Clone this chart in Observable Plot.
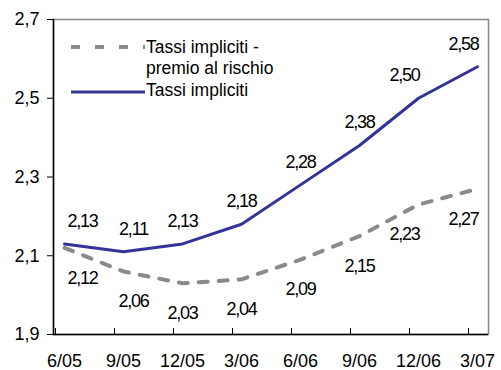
<!DOCTYPE html>
<html>
<head>
<meta charset="utf-8">
<script src="https://cdn.jsdelivr.net/npm/d3@7"></script>
<script src="https://cdn.jsdelivr.net/npm/@observablehq/plot@0.6"></script>
<style>
  html, body { margin: 0; padding: 0; background: #fff; }
  svg { font-family: "Liberation Sans", Arial, sans-serif; }
  g.datalabel text { letter-spacing: -1.2px; }
</style>
</head>
<body>
<div id="chart"></div>
<script>
const categories = ["6/05", "9/05", "12/05", "3/06", "6/06", "9/06", "12/06", "3/07"];
const tassiImpliciti = [2.13, 2.11, 2.13, 2.18, 2.28, 2.38, 2.50, 2.58];
const tassiPremio = [2.12, 2.06, 2.03, 2.04, 2.09, 2.15, 2.23, 2.27];
const yTicks = [1.9, 2.1, 2.3, 2.5, 2.7];
const seriesNames = ["Tassi impliciti -\npremio al rischio", "Tassi impliciti"];

const comma = d => d3.format(".2f")(d).replace(".", ",");
const commaTick = d => d3.format(".1f")(d).replace(".", ",");

const solid = categories.map((c, i) => ({cat: c, v: tassiImpliciti[i], i}));
const dashed = categories.map((c, i) => ({cat: c, v: tassiPremio[i], i}));

const navy = "#333399";
const gray = "#8a8a8a";
const labelFont = {fontSize: 18, fill: "#000", className: "datalabel"};

function labels(data, dy) {
  return [
    Plot.text(data.filter(d => d.i === 0), {x: "cat", y: "v", text: d => comma(d.v), dy, dx: 18, ...labelFont}),
    Plot.text(data.filter(d => d.i === 1), {x: "cat", y: "v", text: d => comma(d.v), dy, dx: 10, ...labelFont}),
    Plot.text(data.filter(d => d.i > 1 && d.i < 6), {x: "cat", y: "v", text: d => comma(d.v), dy, ...labelFont}),
    Plot.text(data.filter(d => d.i >= 6), {x: "cat", y: "v", text: d => comma(d.v), dy, dx: -14, ...labelFont})
  ];
}

const chart = Plot.plot({
  width: 501,
  height: 370,
  marginLeft: 53,
  marginRight: 13,
  marginTop: 19,
  marginBottom: 36,
  style: {fontFamily: "Liberation Sans, Arial, sans-serif", background: "#fff"},
  x: {type: "point", domain: categories, padding: 0.14, label: null},
  y: {domain: [1.9, 2.7], label: null},
  marks: [
    Plot.frame({stroke: "#888", strokeWidth: 1.5}),
    Plot.frame({anchor: "left", stroke: "#000", strokeWidth: 1.5}),
    Plot.ruleY([1.9], {stroke: "#000", strokeWidth: 1.5}),
    Plot.ruleX(categories, {x: d => d, y1: 1.9, y2: 1.9 + 6 / 393.75, dx: -9, stroke: "#000", strokeWidth: 1}),
    Plot.axisY({ticks: yTicks, tickFormat: commaTick, tickSize: 6, tickPadding: 8, fontSize: 18, stroke: "#000", fill: "#000"}),
    Plot.axisX({tickSize: 0, tickPadding: 20, fontSize: 18, fill: "#000"}),
    Plot.line(dashed, {x: "cat", y: "v", stroke: gray, strokeWidth: 4, strokeDasharray: "9,11"}),
    Plot.line(solid, {x: "cat", y: "v", stroke: navy, strokeWidth: 3}),
    ...labels(solid, -23),
    ...labels(dashed, 30)
  ]
});

document.getElementById("chart").appendChild(chart);

// legend inside plot area
const svg = d3.select(chart);
const lg = svg.append("g")
  .attr("font-family", "Liberation Sans, Arial, sans-serif")
  .attr("font-size", 17.5)
  .attr("text-anchor", "start")
  .attr("fill", "#000");
lg.append("line").attr("x1", 71).attr("x2", 145).attr("y1", 47).attr("y2", 47)
  .attr("stroke", gray).attr("stroke-width", 4).attr("stroke-dasharray", "9,15");
const t1 = lg.append("text");
const lines = seriesNames[0].split("\n");
t1.append("tspan").attr("x", 146).attr("y", 53).text(lines[0]);
t1.append("tspan").attr("x", 146).attr("y", 74).text(lines[1]);
lg.append("line").attr("x1", 71).attr("x2", 145).attr("y1", 92).attr("y2", 92)
  .attr("stroke", navy).attr("stroke-width", 3);
lg.append("text").attr("x", 146).attr("y", 96).text(seriesNames[1]);
</script>
</body>
</html>
